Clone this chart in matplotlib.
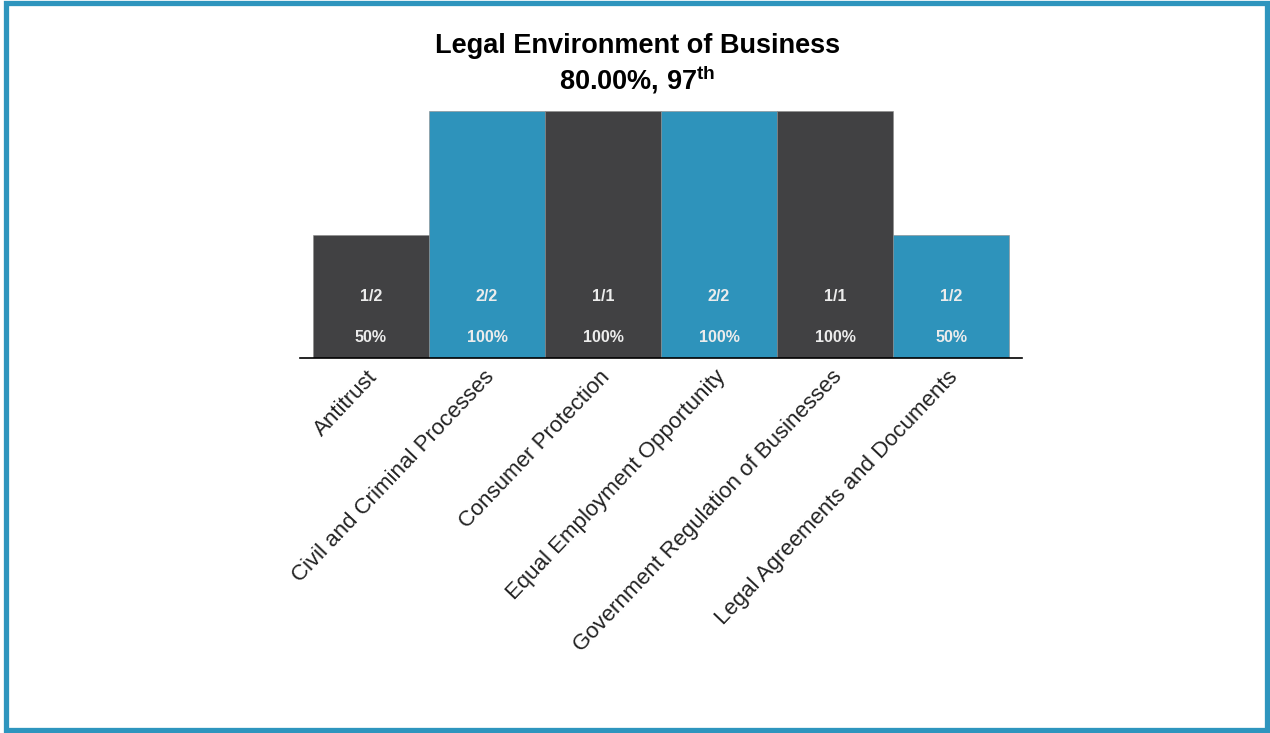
import matplotlib
matplotlib.use('Agg')
import matplotlib.pyplot as plt
import matplotlib.transforms as mtransforms
from matplotlib.patches import Rectangle

categories = ['Antitrust', 'Civil and Criminal Processes', 'Consumer Protection',
              'Equal Employment Opportunity', 'Government Regulation of Businesses',
              'Legal Agreements and Documents']
correct = [1, 2, 1, 2, 1, 1]
total = [2, 2, 1, 2, 1, 2]
pct = [c / t for c, t in zip(correct, total)]
colors = ['#414143', '#2e93bb'] * 3

plt.rcParams['font.family'] = ['Liberation Sans', 'DejaVu Sans']
plt.rcParams['mathtext.fontset'] = 'custom'
plt.rcParams['mathtext.bf'] = 'Liberation Sans:bold'
plt.rcParams['mathtext.rm'] = 'Liberation Sans'

fig = plt.figure(figsize=(12.7, 7.33), dpi=100)
ax = fig.add_axes([300 / 1270, 1 - 358 / 733, 722 / 1270, 247 / 733])

x = list(range(len(categories)))
ax.bar(x, pct, width=1.0, color=colors, edgecolor='#8a8a8a', linewidth=0.4)
for i in x:
    ax.text(i, 0.247, '%d/%d' % (correct[i], total[i]), ha='center', va='center',
            color='#ececec', fontsize=11.5, fontweight='bold')
    ax.text(i, 0.085, '%d%%' % round(pct[i] * 100), ha='center', va='center',
            color='#ececec', fontsize=11.5, fontweight='bold')

ax.set_xlim(-0.5 - 13 / 116.2, 5.5 + 13 / 116.2)
ax.set_ylim(0, 1)
ax.set_xticks(x)
ax.set_xticklabels(categories, rotation=46.5, ha='right', va='top',
                   rotation_mode='anchor', fontsize=16, color='#222222')
ax.tick_params(axis='x', length=0, pad=6)
# nudge the rotated labels a bit to the left
shift = mtransforms.ScaledTranslation(-4 / 100, 0, fig.dpi_scale_trans)
for lab in ax.get_xticklabels():
    lab.set_transform(lab.get_transform() + shift)
ax.set_yticks([])
for s in ['top', 'left', 'right']:
    ax.spines[s].set_visible(False)
ax.spines['bottom'].set_linewidth(1.2)
ax.spines['bottom'].set_color('black')

fig.text(0.502, 1 - 46 / 733, 'Legal Environment of Business', ha='center', va='center',
         fontsize=19.5, fontweight='bold')
fig.text(0.502, 1 - 80 / 733, r'80.00%, 97$^{\mathbf{th}}$', ha='center', va='center',
         fontsize=19.5, fontweight='bold')

# blue frame around the whole picture
fig.patches.append(Rectangle((6 / 1270, 3 / 733), 1261 / 1270, 727 / 733,
                             transform=fig.transFigure, fill=False,
                             edgecolor='#2e95be', linewidth=3.8))

plt.savefig('out.png', dpi=100)
